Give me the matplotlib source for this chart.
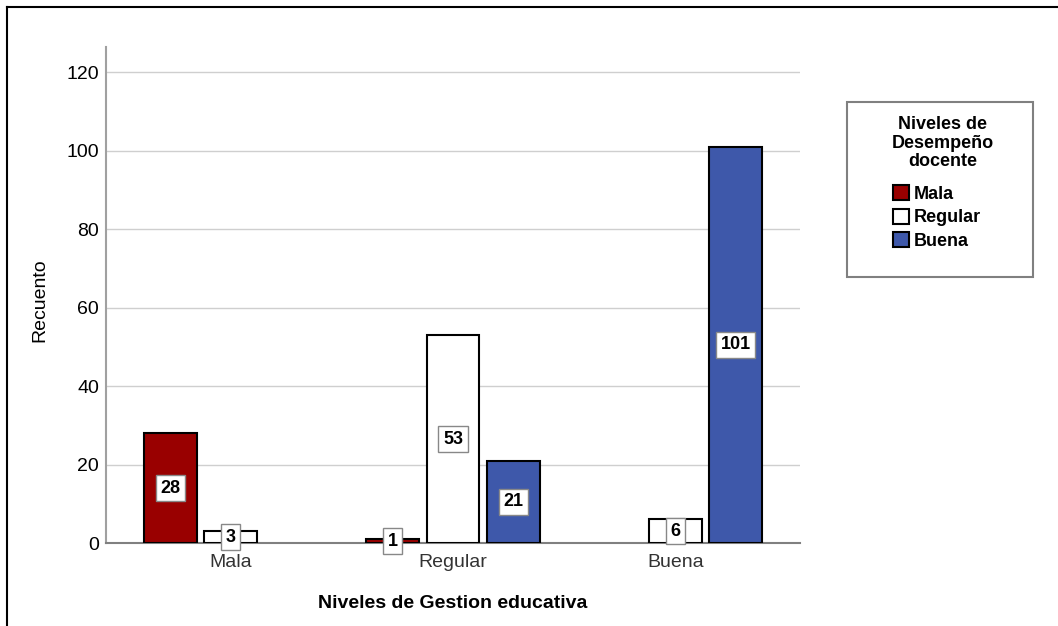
import matplotlib
matplotlib.use("Agg")
import matplotlib.pyplot as plt
from matplotlib.patches import Patch, Rectangle
from matplotlib.lines import Line2D
import numpy as np

plt.rcParams['font.family'] = ['Liberation Sans', 'DejaVu Sans']

# Data
categories = ["Mala", "Regular", "Buena"]          # Niveles de Gestion educativa
series_names = ["Mala", "Regular", "Buena"]        # Niveles de Desempeño docente
mala_vals = [28, 1, 0]
regular_vals = [3, 53, 6]
buena_vals = [0, 21, 101]
series_vals = [mala_vals, regular_vals, buena_vals]
colors = ["#990000", "#ffffff", "#3e58aa"]
yticks = [0, 20, 40, 60, 80, 100, 120]

W, H = 1058, 626
fig = plt.figure(figsize=(W / 100, H / 100), dpi=100)
ax = fig.add_axes([106 / W, 1 - 543 / H, (800 - 106) / W, (543 - 47) / H])

x = np.arange(len(categories))
step = 0.27
width = 0.238
for i, (vals, col) in enumerate(zip(series_vals, colors)):
    for j, v in enumerate(vals):
        if v == 0:
            continue
        xi = x[j] + (i - 1) * step
        ax.bar(xi, v, width=width, color=col, edgecolor="black", linewidth=1.5, zorder=3)
        ax.text(xi, v / 2, str(v), ha="center", va="center", fontsize=13,
                fontweight="bold", zorder=5,
                bbox=dict(boxstyle="square,pad=0.25", fc="white", ec="#888888", lw=1))

ax.set_xlim(-0.56, 2.56)
ax.set_ylim(0, 126.4)
ax.set_yticks(yticks)
ax.set_yticklabels([str(t) for t in yticks], fontsize=14, color="black")
ax.set_xticks(x)
ax.set_xticklabels(categories, fontsize=14, color="#333333")
ax.tick_params(axis="both", length=0)
ax.tick_params(axis="y", pad=5)
ax.tick_params(axis="x", pad=8)
ax.grid(axis="y", color="#cfcfcf", linewidth=1, zorder=0)
ax.set_axisbelow(True)
for s in ["top", "right"]:
    ax.spines[s].set_visible(False)
ax.spines["left"].set_color("#a0a0a0")
ax.spines["left"].set_linewidth(1.5)
ax.spines["bottom"].set_color("#808080")
ax.spines["bottom"].set_linewidth(1.5)

ax.set_ylabel("Recuento", fontsize=14)
ax.yaxis.set_label_coords(48 / W, 1 - 300 / H, transform=fig.transFigure)
ax.set_xlabel("Niveles de Gestion educativa", fontsize=14, fontweight="bold")
ax.xaxis.set_label_coords(453 / W, 1 - 595 / H, transform=fig.transFigure)

# Legend box
fig.patches.append(Rectangle((847 / W, 1 - 277 / H), (1033 - 847) / W, (277 - 102) / H,
                             transform=fig.transFigure, fc="white", ec="#808080", lw=1.5,
                             zorder=1))
fig.text(943 / W, 1 - 143 / H, "Niveles de\nDesempeño\ndocente", ha="center", va="center",
         multialignment="center", fontsize=13, fontweight="bold", linespacing=1.15, zorder=3)
handles = [Patch(facecolor=c, edgecolor="black", linewidth=1.5) for c in colors]
leg = fig.legend(handles, series_names, loc="upper left",
                 bbox_to_anchor=(893 / W, 1 - 185 / H), bbox_transform=fig.transFigure,
                 frameon=False, borderpad=0, borderaxespad=0, handlelength=0.87,
                 handleheight=0.92, handletextpad=0.3, labelspacing=0.32,
                 prop=dict(size=13, weight="bold"))
leg.set_zorder(3)

# Figure border (top and left)
fig.lines.append(Line2D([7 / W, 7 / W], [0, 1 - 7 / H], transform=fig.transFigure,
                        color="black", lw=1.5))
fig.lines.append(Line2D([7 / W, 1], [1 - 7 / H, 1 - 7 / H], transform=fig.transFigure,
                        color="black", lw=1.5))

fig.savefig("out.png", dpi=100)
